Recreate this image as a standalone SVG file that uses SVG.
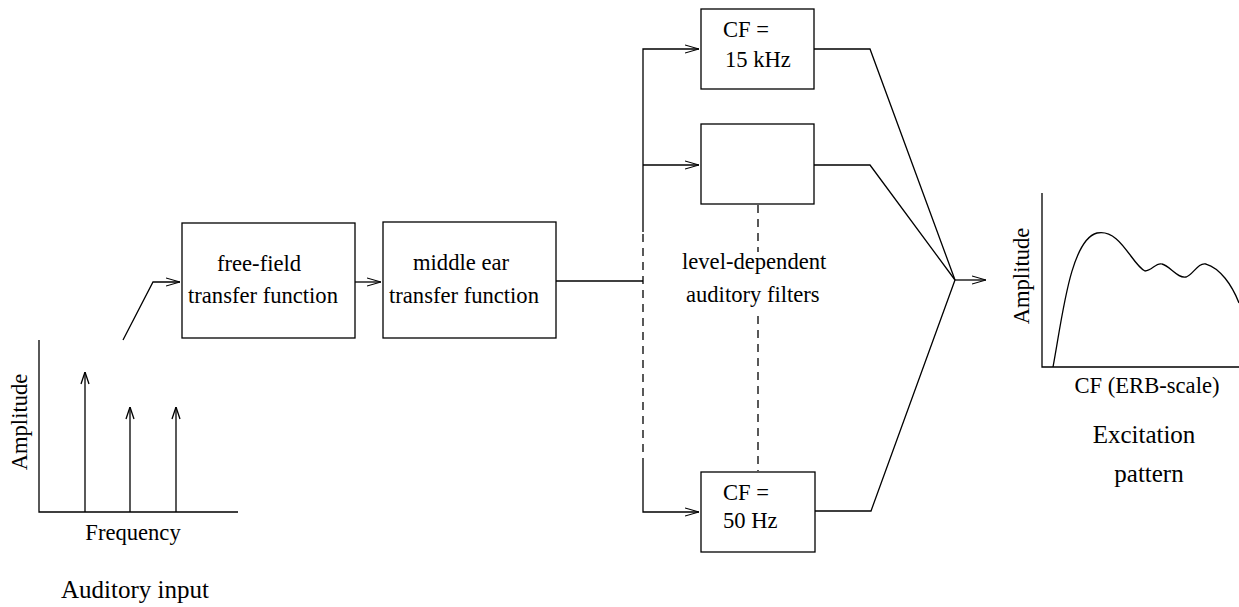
<svg xmlns="http://www.w3.org/2000/svg" width="1239" height="607" viewBox="0 0 1239 607">
<defs>
<marker id="arr" viewBox="0 0 14 10" refX="14" refY="5" markerWidth="14" markerHeight="10" markerUnits="userSpaceOnUse" orient="auto">
<path d="M0,1 L14,5 L0,9" fill="none" stroke="#000" stroke-width="1.2"/>
</marker>
<marker id="up" viewBox="0 0 10 14" refX="5" refY="0" markerWidth="10" markerHeight="14" markerUnits="userSpaceOnUse" orient="0">
<path d="M1,12 L5,0 L9,12" fill="none" stroke="#000" stroke-width="1.3"/>
</marker>
</defs>
<style>
text{font-family:"Liberation Serif","Times New Roman",serif;fill:#000}
.t{font-size:22.6px}
.b{font-size:25px}
.box{fill:#fff;stroke:#000;stroke-width:1.3}
.ln{fill:none;stroke:#000;stroke-width:1.3}
.dash{fill:none;stroke:#000;stroke-width:1.3;stroke-dasharray:8,6}
</style>
<rect width="1239" height="607" fill="#fff"/>

<g id="input-chart">
<path class="ln" d="M39,340 V512 H238"/>
<line class="ln" x1="85" y1="512" x2="85" y2="372" marker-end="url(#up)"/>
<line class="ln" x1="130" y1="512" x2="130" y2="407" marker-end="url(#up)"/>
<line class="ln" x1="176" y1="512" x2="176" y2="407" marker-end="url(#up)"/>
<text class="t" transform="translate(27,422) rotate(-90)" text-anchor="middle">Amplitude</text>
<text class="t" x="133" y="540" text-anchor="middle">Frequency</text>
<text class="b" x="135" y="598" text-anchor="middle">Auditory input</text>
</g>

<g id="connectors">
<path class="ln" d="M123,340 L153,282 H180" marker-end="url(#arr)"/>
<line class="ln" x1="355" y1="282" x2="381" y2="282" marker-end="url(#arr)"/>
<line class="ln" x1="556" y1="281" x2="643" y2="281"/>
<path class="ln" d="M643,232 V49 H699" marker-end="url(#arr)"/>
<line class="ln" x1="643" y1="165" x2="699" y2="165" marker-end="url(#arr)"/>
<line class="dash" x1="643" y1="234" x2="643" y2="466"/>
<path class="ln" d="M643,466 V512 H699" marker-end="url(#arr)"/>
<line class="dash" x1="758" y1="205" x2="758" y2="252"/>
<line class="dash" x1="758" y1="316" x2="758" y2="471"/>
<path class="ln" d="M814,49 H870 L955,280"/>
<path class="ln" d="M814,165 H870 L955,280"/>
<path class="ln" d="M815,511 H871 L955,280"/>
<line class="ln" x1="955" y1="280" x2="986" y2="280" marker-end="url(#arr)"/>
</g>

<g id="free-field">
<rect class="box" x="182" y="223" width="173" height="115"/>
<text class="t" x="217" y="271">free-field</text>
<text class="t" x="188" y="303">transfer function</text>
</g>

<g id="middle-ear">
<rect class="box" x="383" y="222" width="173" height="116"/>
<text class="t" x="413" y="270">middle ear</text>
<text class="t" x="389" y="303">transfer function</text>
</g>

<g id="cf-15khz">
<rect class="box" x="701" y="9" width="113" height="80"/>
<text class="t" x="723" y="37">CF =</text>
<text class="t" x="725" y="67">15 kHz</text>
</g>

<g id="cf-mid">
<rect class="box" x="701" y="124" width="113" height="80"/>
</g>

<g id="cf-50hz">
<rect class="box" x="701" y="472" width="114" height="80"/>
<text class="t" x="723" y="500">CF =</text>
<text class="t" x="723" y="528">50 Hz</text>
</g>

<g id="filters-label">
<text class="t" x="682" y="269">level-dependent</text>
<text class="t" x="686" y="302">auditory filters</text>
</g>

<g id="excitation-chart">
<path class="ln" d="M1042,193 V367 H1239"/>
<path class="ln" d="M1053,367 C1062,320 1070,240 1097,233 C1120,228 1132,265 1145,271 C1152,271 1156,262 1162,264 C1170,266 1178,279 1186,277 C1193,275 1198,262 1206,264 C1220,268 1232,285 1239,303"/>
<text class="t" transform="translate(1029,276) rotate(-90)" text-anchor="middle">Amplitude</text>
<text class="t" x="1147" y="393" text-anchor="middle">CF (ERB-scale)</text>
<text class="b" x="1144" y="443" text-anchor="middle">Excitation</text>
<text class="b" x="1149" y="482" text-anchor="middle">pattern</text>
</g>
</svg>
